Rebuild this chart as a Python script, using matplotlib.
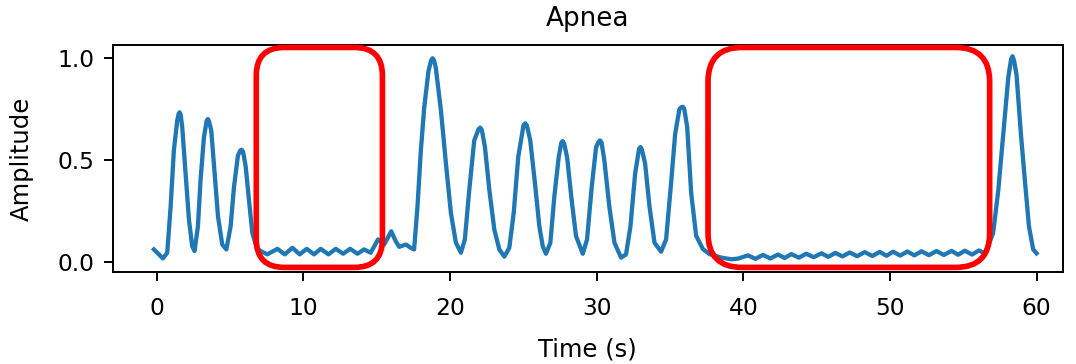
import matplotlib
matplotlib.use("Agg")
from matplotlib import pyplot as plt
from matplotlib.patches import FancyBboxPatch
from matplotlib.transforms import IdentityTransform

# breathing signal (time in s, amplitude)
t = [-0.18, 0.16, 0.43, 0.73, 0.96, 1.18, 1.41, 1.5, 1.57, 1.65, 1.75, 1.98, 2.21, 2.43, 2.59,
     2.82, 3.0, 3.23, 3.42, 3.5, 3.58, 3.73, 3.96, 4.19, 4.48, 4.76,
     5.05, 5.28, 5.55, 5.72, 5.8, 5.9, 6.08, 6.3, 6.53, 6.83, 7.1,
     7.55, 8.24, 8.74, 9.26, 9.76, 10.24, 10.74, 11.19, 11.72, 12.22, 12.72, 13.2,
     13.7, 14.15, 14.6, 15.1, 15.52, 16.0, 16.31, 16.54, 17.0, 17.34, 17.56,
     17.79, 18.02, 18.25, 18.54, 18.72, 18.82, 18.92, 19.04, 19.39, 19.73, 20.07, 20.41, 20.75,
     21.02, 21.32, 21.66, 21.95, 22.07, 22.18, 22.39, 22.69, 23.03, 23.37, 23.71,
     24.05, 24.35, 24.66, 25.02, 25.14, 25.26, 25.48, 25.8, 26.1, 26.33, 26.55,
     26.85, 27.12, 27.42, 27.6, 27.69, 27.79, 27.99, 28.3, 28.6, 29.06,
     29.35, 29.67, 29.97, 30.15, 30.24, 30.34, 30.53, 30.87, 31.22, 31.67,
     32.01, 32.31, 32.63, 32.9, 32.99, 33.09, 33.31, 33.61, 33.95, 34.4,
     34.74, 35.04, 35.36, 35.65, 35.78, 35.88, 35.98, 36.18, 36.45, 36.79, 37.25, 37.7,
     38.5, 39.18, 39.64, 40.32, 40.83, 41.34, 41.85, 42.37, 42.82, 43.28, 43.8,
     44.3, 44.8, 45.33, 45.8, 46.28, 46.77, 47.26, 47.77, 48.28, 48.8, 49.31,
     49.77, 50.22, 50.7, 51.19, 51.67, 52.15, 52.66, 53.17, 53.68, 54.2, 54.65,
     55.11, 55.6, 56.07, 56.45,
     56.7, 57.04, 57.39, 57.73, 58.07, 58.26, 58.36, 58.46, 58.63, 58.93, 59.2, 59.48, 59.77, 60.0]
amp = [0.063, 0.039, 0.019, 0.047, 0.273, 0.548, 0.694, 0.727, 0.735, 0.722, 0.662, 0.435, 0.209, 0.079, 0.055,
       0.176, 0.403, 0.613, 0.695, 0.702, 0.69, 0.646, 0.435, 0.225, 0.087, 0.063,
       0.176, 0.37, 0.524, 0.549, 0.552, 0.542, 0.468, 0.306, 0.144, 0.071, 0.055,
       0.039, 0.066, 0.039, 0.071, 0.039, 0.066, 0.039, 0.066, 0.039, 0.066, 0.042, 0.066,
       0.042, 0.063, 0.047, 0.112, 0.087, 0.152, 0.103, 0.076, 0.087, 0.071, 0.063,
       0.273, 0.548, 0.759, 0.937, 0.99, 1.0, 0.99, 0.953, 0.743, 0.484, 0.241, 0.096, 0.047,
       0.112, 0.354, 0.597, 0.652, 0.66, 0.648, 0.565, 0.354, 0.16, 0.063, 0.028,
       0.071, 0.241, 0.516, 0.672, 0.681, 0.668, 0.597, 0.387, 0.176, 0.079, 0.042,
       0.096, 0.322, 0.516, 0.587, 0.594, 0.582, 0.516, 0.306, 0.128, 0.042,
       0.112, 0.37, 0.565, 0.592, 0.597, 0.587, 0.5, 0.273, 0.096, 0.023,
       0.039, 0.176, 0.435, 0.557, 0.565, 0.553, 0.484, 0.273, 0.096, 0.052,
       0.112, 0.354, 0.63, 0.751, 0.76, 0.762, 0.752, 0.662, 0.34, 0.13, 0.065, 0.04,
       0.023, 0.015, 0.018, 0.034, 0.017, 0.036, 0.019, 0.038, 0.021, 0.040, 0.023,
       0.042, 0.025, 0.044, 0.027, 0.046, 0.029, 0.048, 0.030, 0.050, 0.031, 0.051,
       0.032, 0.052, 0.033, 0.053, 0.034, 0.054, 0.035, 0.055, 0.036, 0.056, 0.037,
       0.057, 0.038, 0.058, 0.045,
       0.079, 0.144, 0.354, 0.63, 0.905, 0.995, 1.01, 0.99, 0.921, 0.63, 0.403, 0.176, 0.063, 0.044]

# apnea episodes marked with red boxes
apnea_start = [6.8, 37.6]
apnea_end = [15.4, 56.8]

plt.rcParams['xtick.labelsize'] = 12
plt.rcParams['ytick.labelsize'] = 12
plt.rcParams['axes.labelsize'] = 12.5
plt.rcParams['axes.titlesize'] = 13.5

fig = plt.figure(figsize=(1076/140, 364/140), dpi=140)
ax = fig.add_axes([0.1046, 0.2519, 0.8833, 0.6245])
ax.plot(t, amp, color="#1f77b4", lw=2.2)
ax.set_xlim(-3.0, 61.8)
ax.set_ylim(-0.049, 1.065)
ax.set_xticks([0, 10, 20, 30, 40, 50, 60])
ax.set_yticks([0.0, 0.5, 1.0])
ax.tick_params(length=4.5, width=1.0)
ax.tick_params(axis='x', pad=8)
ax.tick_params(axis='y', pad=5)
for s in ax.spines.values():
    s.set_linewidth(1.0)
ax.set_title("Apnea", pad=10)
ax.set_xlabel("Time (s)", labelpad=9)
ax.set_ylabel("Amplitude", labelpad=12)

# red rounded boxes, drawn in pixels so the corners stay round
for i, (a, b) in enumerate(zip(apnea_start, apnea_end)):
    x0, y0 = ax.transData.transform((a, -0.025))
    x1, y1 = ax.transData.transform((b, 1.053))
    r = 28 if i == 0 else 34
    box = FancyBboxPatch((x0, y0), x1 - x0, y1 - y0,
                         boxstyle=f"round,pad=0,rounding_size={r}",
                         transform=IdentityTransform(),
                         fill=False, edgecolor="red", lw=2.9, zorder=5)
    fig.add_artist(box)

fig.savefig("out.png", dpi=140)
